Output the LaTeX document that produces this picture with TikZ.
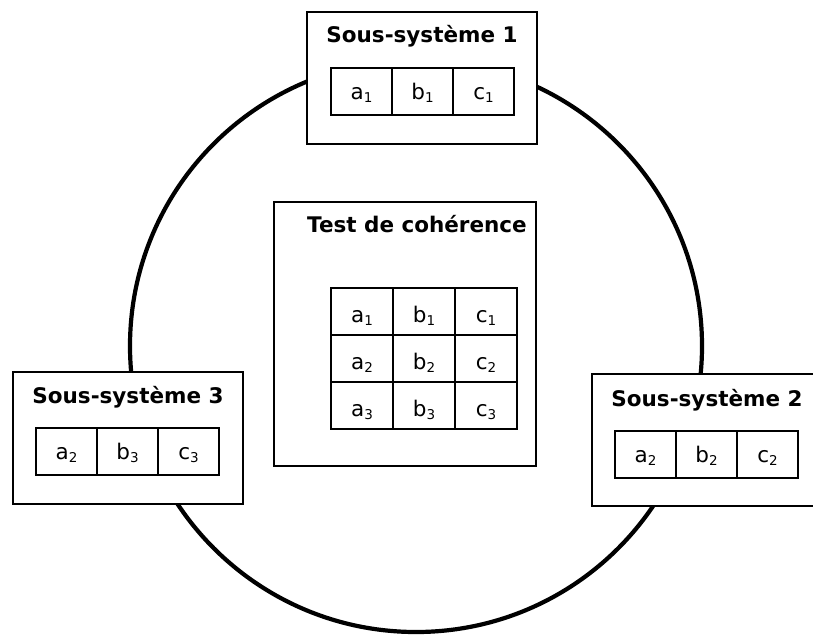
\documentclass[tikz,border=0pt]{standalone}
\usepackage{fontspec}
\setmainfont{DejaVu Sans}
\newcommand\idx[1]{\raisebox{-2.5pt}{\fontsize{13.5}{14}\selectfont #1}}
\tikzset{
  x=1pt, y=-1pt,
  ring/.style={circle, draw, line width=4.2pt, minimum size=572pt, inner sep=0pt},
  panel/.style={rectangle, draw, fill=white, line width=2pt, minimum width=230pt, minimum height=132pt, inner sep=0pt},
  bigpanel/.style={rectangle, draw, fill=white, line width=2pt, minimum width=262pt, minimum height=264pt, inner sep=0pt},
  title/.style={anchor=base, font=\fontsize{21.5}{24}\selectfont\bfseries, inner sep=0pt},
  cell/.style={rectangle, draw, line width=2pt, minimum width=61pt, minimum height=47pt, inner sep=0pt, outer sep=0pt,
    font=\fontsize{21.5}{24}\selectfont, text height=16pt, text depth=0pt},
  gcell/.style={cell, minimum width=62pt, minimum height=47pt, text height=22.6pt},
}
\begin{document}
\begin{tikzpicture}
\useasboundingbox (0,0) rectangle (813,635);
\clip (0,0) rectangle (813,635);
\fill[white] (0,0) rectangle (813,635);
\node[ring] (ring) at (416,346) {};

% Sous-systeme 1
\node[panel] (s1) at (422,78) {};
\node[title] (s1t) at (422,42) {Sous-système 1};
\node[cell, anchor=north west] (s1a) at (331,68) {a\idx{1}};
\node[cell, anchor=north west] (s1b) at (s1a.north east) {b\idx{1}};
\node[cell, anchor=north west] (s1c) at (s1b.north east) {c\idx{1}};

% Sous-systeme 3
\node[panel] (s3) at (128,438) {};
\node[title] (s3t) at (128,403) {Sous-système 3};
\node[cell, anchor=north west] (s3a) at (36,428) {a\idx{2}};
\node[cell, anchor=north west] (s3b) at (s3a.north east) {b\idx{3}};
\node[cell, anchor=north west] (s3c) at (s3b.north east) {c\idx{3}};

% Sous-systeme 2
\node[panel] (s2) at (707,440) {};
\node[title] (s2t) at (707,406) {Sous-système 2};
\node[cell, anchor=north west] (s2a) at (615,431) {a\idx{2}};
\node[cell, anchor=north west] (s2b) at (s2a.north east) {b\idx{2}};
\node[cell, anchor=north west] (s2c) at (s2b.north east) {c\idx{2}};

% Test de coherence
\node[bigpanel] (t) at (405,334) {};
\node[title] (tt) at (417,232) {Test de cohérence};
\node[gcell, anchor=north west] (g11) at (331,288) {a\idx{1}};
\node[gcell, anchor=north west] (g12) at (g11.north east) {b\idx{1}};
\node[gcell, anchor=north west] (g13) at (g12.north east) {c\idx{1}};
\node[gcell, anchor=north west] (g21) at (g11.south west) {a\idx{2}};
\node[gcell, anchor=north west] (g22) at (g21.north east) {b\idx{2}};
\node[gcell, anchor=north west] (g23) at (g22.north east) {c\idx{2}};
\node[gcell, anchor=north west] (g31) at (g21.south west) {a\idx{3}};
\node[gcell, anchor=north west] (g32) at (g31.north east) {b\idx{3}};
\node[gcell, anchor=north west] (g33) at (g32.north east) {c\idx{3}};
\end{tikzpicture}
\end{document}
